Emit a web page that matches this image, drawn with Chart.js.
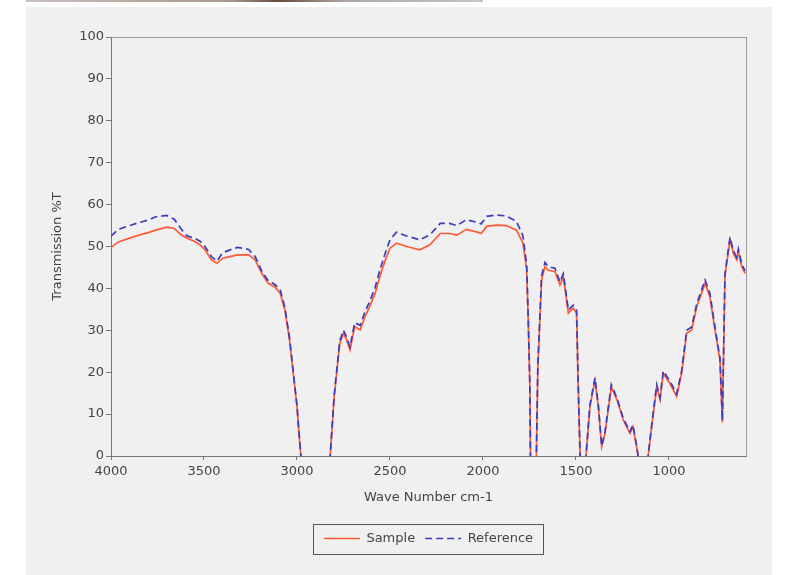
<!DOCTYPE html>
<html>
<head>
<meta charset="utf-8">
<script src="https://cdn.jsdelivr.net/npm/chart.js@4"></script>
<style>
  body { margin: 0; background: #ffffff; }
  #strip { position: absolute; left: 26px; top: 0; width: 457px; height: 2px;
           background: linear-gradient(to right, #c8c0bc, #a89890 45%, #6a4a3a 55%, #b0a8a4 70%, #c8c4c0); }
  #wrap { position: absolute; left: 26px; top: 7px; width: 746px; height: 568px; background: #f0f0f0; }
</style>
</head>
<body>
<div id="strip"></div>
<div id="wrap"><canvas id="irChart" width="746" height="568"></canvas></div>
<script>
const waveNumbers = [4000, 3960, 3900, 3850, 3800, 3760, 3700, 3660, 3620, 3590, 3550, 3520, 3495, 3460, 3430, 3400,
  3360, 3320, 3260, 3225, 3190, 3155, 3120, 3090, 3065, 3040, 3020, 3000, 2985, 2970, 2830, 2820, 2800, 2770, 2750,
  2733, 2715, 2690, 2660, 2635, 2610, 2580, 2555, 2525, 2500, 2465, 2410, 2340, 2285, 2230, 2180, 2140, 2090, 2035,
  2010, 1980, 1930, 1875, 1820, 1785, 1765, 1756, 1748, 1744, 1715, 1705, 1685, 1667, 1650, 1613, 1586, 1568, 1541,
  1515, 1497, 1488, 1475, 1455, 1425, 1398, 1380, 1362, 1344, 1310, 1280, 1246, 1210, 1194, 1174, 1156, 1120, 1093,
  1066, 1048, 1031, 995, 959, 932, 905, 878, 851, 806, 780, 753, 726, 713, 699, 672, 654, 636, 627, 609, 591];

const sample = [49.8, 51.1, 52.0, 52.7, 53.3, 53.9, 54.6, 54.3, 52.7, 52.0, 51.2, 50.4, 49.2, 46.8, 46.0, 47.2,
  47.6, 48.0, 48.0, 46.8, 43.6, 41.2, 40.4, 38.8, 34.8, 27.7, 19.7, 11.8, 3.0, -5, -5, 1.0, 14.2, 26.9, 29.3,
  27.7, 25.3, 30.9, 30.1, 33.2, 35.6, 38.8, 42.8, 46.8, 49.6, 50.8, 50.0, 49.2, 50.4, 53.1, 53.1, 52.7, 54.1, 53.5,
  53.1, 54.8, 55.1, 55.0, 53.9, 50.8, 44.4, 30.9, 16.5, -5, -5, 21.3, 42.0, 45.2, 44.4, 44.0, 40.8, 42.8, 34.1,
  35.3, 34.1, 16.5, -5, -5, 11.8, 18.1, 11.8, 2.2, 5.4, 16.5, 13.4, 8.6, 5.4, 7.0, 2.2, -3, -3, 7.0,
  16.5, 13.4, 19.7, 17.3, 14.2, 19.7, 29.3, 30.1, 35.6, 41.2, 38.0, 30.1, 22.9, 8.0, 43.0, 51.6, 48.4, 46.8, 48.8, 45.2, 43.6];

const reference = [52.5, 54.1, 55.0, 55.7, 56.3, 57.1, 57.4, 56.5, 54.0, 52.5, 52.0, 51.2, 50.0, 47.6, 46.5, 48.5,
  49.2, 49.8, 49.3, 47.6, 44.2, 41.8, 41.0, 39.6, 35.4, 28.1, 20.0, 12.0, 3.2, -5, -5, 1.0, 14.5, 27.5, 30.0,
  28.3, 26.0, 31.8, 31.2, 34.4, 36.8, 40.2, 44.3, 48.5, 51.6, 53.4, 52.5, 51.6, 52.8, 55.5, 55.5, 55.0, 56.4, 55.8,
  55.4, 57.2, 57.5, 57.3, 56.0, 52.5, 45.5, 31.5, 17.0, -5, -5, 21.8, 43.0, 46.2, 45.2, 44.8, 41.5, 43.5, 34.8,
  36.0, 34.8, 17.0, -5, -5, 12.2, 18.6, 12.2, 2.4, 5.8, 17.0, 13.9, 9.0, 5.8, 7.4, 2.4, -3, -3, 7.4,
  17.0, 13.9, 20.3, 17.9, 14.8, 20.3, 30.0, 30.8, 36.3, 42.0, 38.8, 30.8, 23.4, 8.4, 43.5, 52.2, 49.0, 47.4, 49.4, 45.8, 44.2];

const xTicks = [4000, 3500, 3000, 2500, 2000, 1500, 1000];

const FONT = { family: 'DejaVu Sans', size: 13 };

const legendFrame = {
    id: 'legendFrame',
    beforeInit(chart) {
        const fit = chart.legend.fit;
        chart.legend.fit = function() {
            fit.call(this);
            this.height = 40;
        };
    },
    beforeDraw(chart) {
        const ctx = chart.ctx;
        const a = chart.chartArea;
        ctx.save();
        ctx.strokeStyle = '#9a9a9a';
        ctx.lineWidth = 1;
        ctx.strokeRect(a.left + 0.5, a.top + 0.5, a.right - a.left, a.bottom - a.top);
        ctx.restore();
    },
    afterDraw(chart) {
        const boxes = chart.legend.legendHitBoxes;
        if (!boxes || !boxes.length) return;
        const first = boxes[0];
        const last = boxes[boxes.length - 1];
        const cy = first.top + first.height / 2;
        const ctx = chart.ctx;
        ctx.save();
        ctx.strokeStyle = '#555';
        ctx.lineWidth = 1;
        const x0 = Math.round(first.left - 11) + 0.5;
        const x1 = Math.round(last.left + last.width + 10) + 0.5;
        const y0 = Math.round(cy - 15) + 0.5;
        const y1 = Math.round(cy + 15) + 0.5;
        ctx.strokeRect(x0, y0, x1 - x0, y1 - y0);
        ctx.restore();
    }
};

const ctx = document.getElementById('irChart').getContext('2d');

new Chart(ctx, {
    type: 'line',
    data: {
        datasets: [{
            label: 'Sample',
            data: waveNumbers.map((w, i) => ({ x: w, y: sample[i] })),
            borderColor: '#ff5a36',
            borderWidth: 1.7,
            pointRadius: 0,
            tension: 0,
            order: 1
        }, {
            label: 'Reference',
            data: waveNumbers.map((w, i) => ({ x: w, y: reference[i] })),
            borderColor: '#3c3cc0',
            borderWidth: 1.7,
            borderDash: [7, 4],
            pointRadius: 0,
            tension: 0,
            order: 0
        }]
    },
    options: {
        responsive: false,
        animation: false,
        layout: {
            padding: { top: 30, left: 0, right: 26, bottom: 13 }
        },
        plugins: {
            legend: {
                position: 'bottom',
                fullSize: false,
                labels: {
                    usePointStyle: true,
                    pointStyle: 'line',
                    pointStyleWidth: 36,
                    boxHeight: 8,
                    color: '#444',
                    padding: 10,
                    font: FONT,
                    sort: (a, b) => a.datasetIndex - b.datasetIndex,
                    generateLabels: chart => {
                        const items = Chart.defaults.plugins.legend.labels.generateLabels(chart);
                        items.forEach(item => {
                            const ds = chart.data.datasets[item.datasetIndex];
                            item.lineDash = ds.borderDash || [];
                            item.strokeStyle = ds.borderColor;
                            item.lineWidth = 1.5;
                        });
                        return items;
                    }
                }
            },
            tooltip: { enabled: false }
        },
        scales: {
            x: {
                type: 'linear',
                reverse: true,
                min: 586,
                max: 4000,
                afterBuildTicks: axis => { axis.ticks = xTicks.map(v => ({ value: v })); },
                afterFit: axis => { axis.height = 66; },
                border: { color: '#777', width: 1 },
                grid: { drawOnChartArea: false, drawTicks: true, tickLength: 4, color: '#777' },
                ticks: {
                    color: '#444',
                    padding: 4,
                    maxRotation: 0,
                    font: FONT,
                    callback: v => String(v)
                },
                title: {
                    display: true,
                    text: 'Wave Number cm-1',
                    color: '#444',
                    padding: { top: 0, bottom: 17 },
                    font: FONT
                }
            },
            y: {
                min: 0,
                max: 100,
                afterFit: axis => { axis.width = 85; },
                border: { color: '#777', width: 1 },
                grid: { drawOnChartArea: false, drawTicks: true, tickLength: 5, color: '#777' },
                ticks: {
                    stepSize: 10,
                    color: '#444',
                    padding: 2,
                    font: FONT
                },
                title: {
                    display: true,
                    text: 'Transmission %T',
                    color: '#444',
                    padding: { top: 24, bottom: 0 },
                    font: FONT
                }
            }
        }
    },
    plugins: [legendFrame]
});
</script>
</body>
</html>
